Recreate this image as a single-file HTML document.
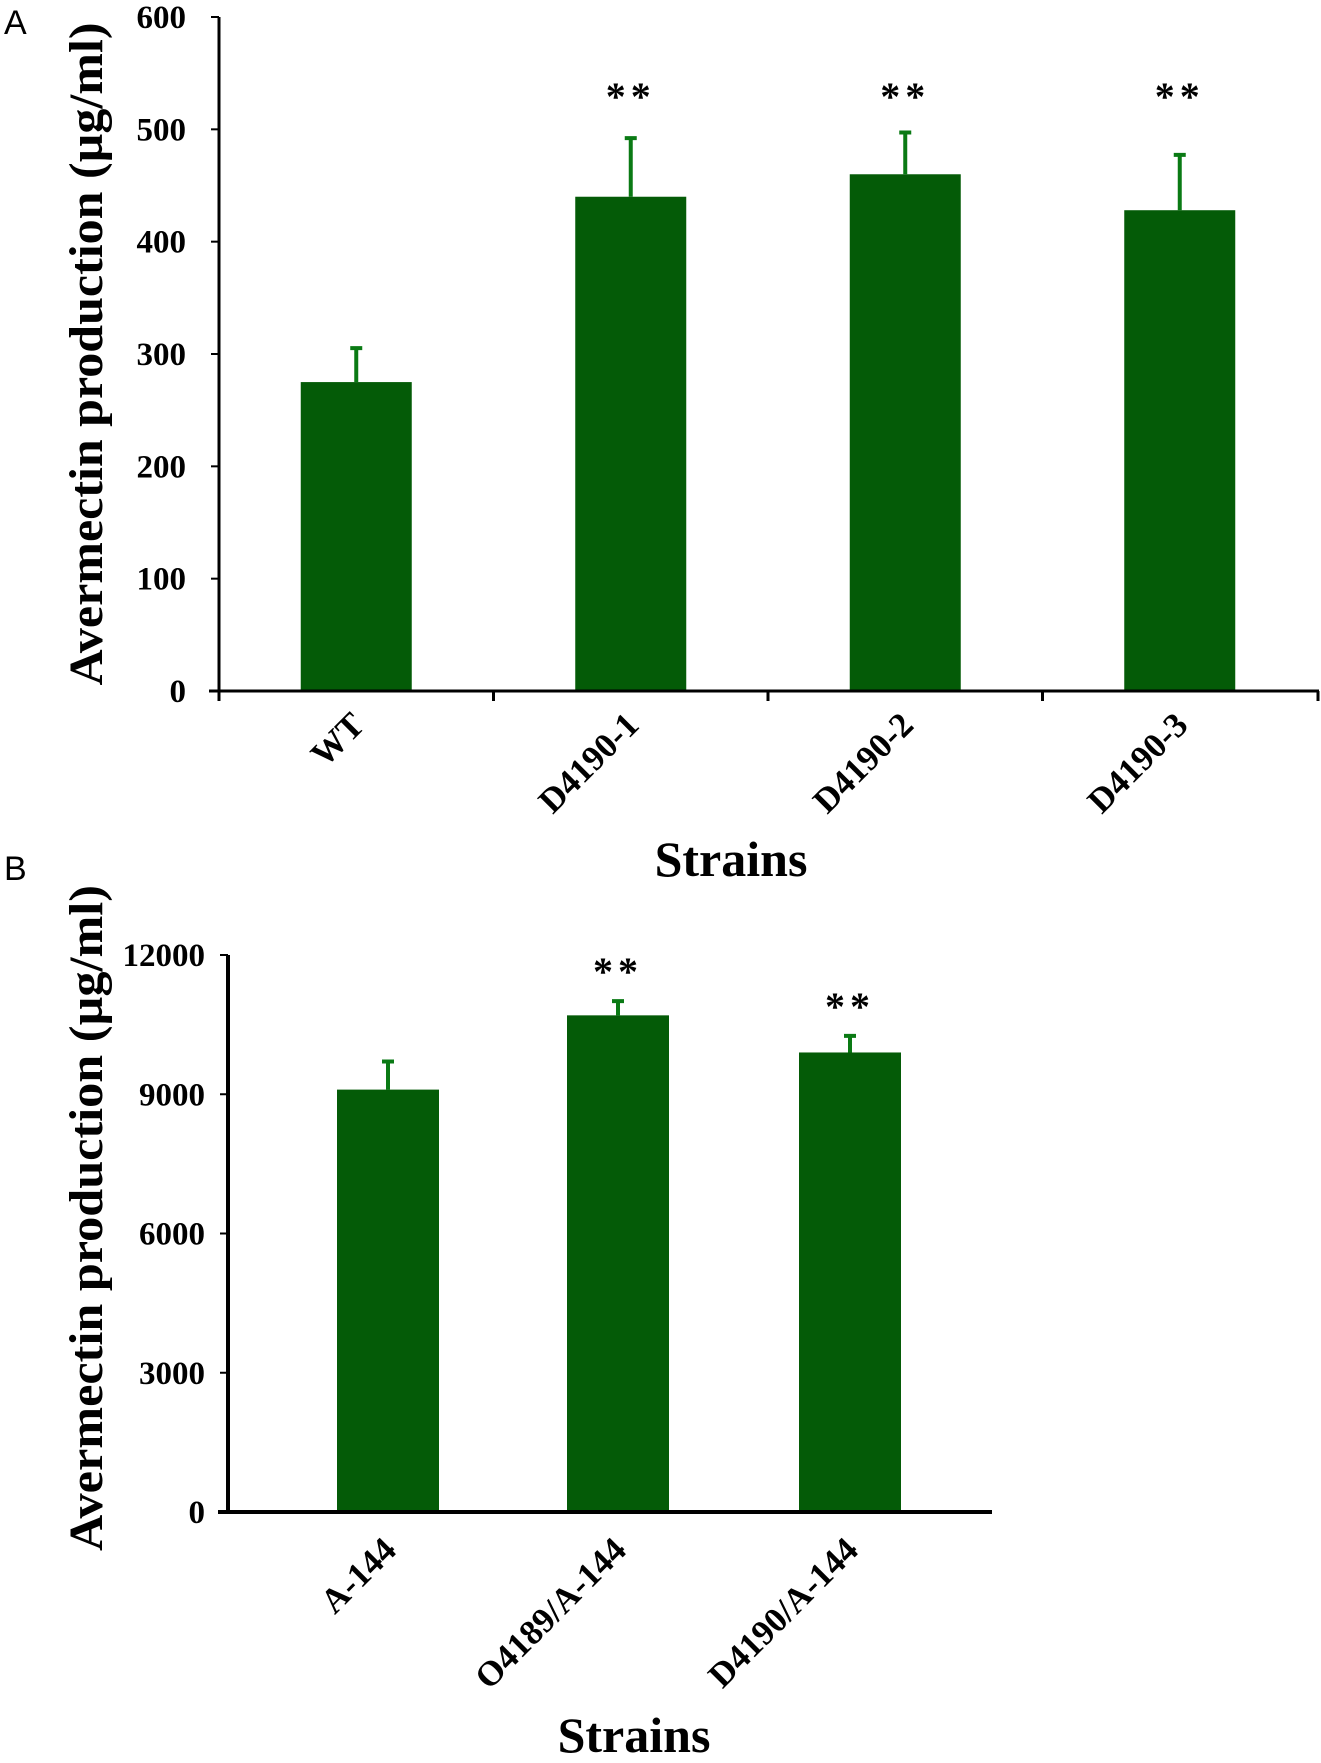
<!DOCTYPE html>
<html><head><meta charset="utf-8"><style>
body{margin:0;background:#fff}
svg text{font-family:"Liberation Serif",serif;font-weight:bold;fill:#000}
</style></head><body>
<svg id="chart" width="1321" height="1758" viewBox="0 0 1321 1758" xmlns="http://www.w3.org/2000/svg">
<text x="4" y="34" style="font-family:'Liberation Sans',sans-serif;font-weight:normal;font-size:34px">A</text>
<text x="4" y="880" style="font-family:'Liberation Sans',sans-serif;font-weight:normal;font-size:34px">B</text>
<g id="pa"></g>
<g id="pb"></g>
</svg>
<script>
const catsA = ["WT","D4190-1","D4190-2","D4190-3"];
const valsA = [275,440,460,428];
const errA = [32,54,39,51];
const sigA = ["","**","**","**"];
const ticksA = [0,100,200,300,400,500,600];

const catsB = ["A-144","O4189/A-144","D4190/A-144"];
const valsB = [9100,10700,9900];
const errB = [650,350,400];
const sigB = ["","**","**"];
const ticksB = [0,3000,6000,9000,12000];

const NS="http://www.w3.org/2000/svg";
function mk(p,t,a){const e=document.createElementNS(NS,t);for(const k in a)e.setAttribute(k,a[k]);p.appendChild(e);return e;}

function draw(g,cfg){
  const {cats,vals,errs,sig,ticks,x0,x1,y0,yTop,vmax,barW,barCenters,axisW,tickLblX,titleX,titleY,titleLen,xTitleX,xTitleY,labelDy,catTicks,fontTick,starDy,starY}=cfg;
  const y=v=>y0-(v/vmax)*(y0-yTop);
  cats.forEach((c,i)=>{
    const cx=barCenters(i);
    const r=mk(g,'rect',{x:cx-barW/2,y:y(vals[i]),width:barW,height:y0-y(vals[i]),fill:'#045b07'});
    
    
    const e=mk(g,'path',{d:`M${cx} ${y(vals[i])} V${y(vals[i]+errs[i])} M${cx-6} ${y(vals[i]+errs[i])+2} H${cx+6}`,stroke:'#0a7a14','stroke-width':4,fill:'none'});
    
    
    if(sig[i]){
      const sy = starY!=null ? starY : y(vals[i]+errs[i])-starDy;
      const s=mk(g,'text',{x:cx,y:sy,'text-anchor':'middle','font-size':40,'letter-spacing':'5'});
      s.textContent=sig[i];
      
      
    }
    const l=mk(g,'text',{x:0,y:0,'text-anchor':'end','font-size':35,transform:`translate(${cx+10},${y0+labelDy}) rotate(-45)`});
    l.textContent=c;
    
    
  });
  const ax=mk(g,'path',{d:`M${x0} ${yTop} V${y0} M${x0-10} ${y0} H${x1}`,stroke:'#000','stroke-width':axisW,fill:'none'});
  
  
  ticks.forEach(t=>{
    mk(g,'line',{x1:x0-8,x2:x0,y1:y(t),y2:y(t),stroke:'#000','stroke-width':2});
    const tl=mk(g,'text',{x:tickLblX,y:y(t)+11,'text-anchor':'end','font-size':fontTick});
    tl.textContent=t;
    
    
  });
  catTicks.forEach(cx=>mk(g,'line',{x1:cx,x2:cx,y1:y0,y2:y0+10,stroke:'#000','stroke-width':3}));
  const yt=mk(g,'text',{x:0,y:0,'text-anchor':'middle','font-size':48,textLength:titleLen,lengthAdjust:'spacingAndGlyphs',transform:`translate(${titleX},${titleY}) rotate(-90)`});
  yt.textContent='Avermectin production (µg/ml)';
  
  
  const xt=mk(g,'text',{x:xTitleX,y:xTitleY,'text-anchor':'middle','font-size':50});
  xt.textContent='Strains';
  
  
}

const cwA=274.5;
draw(document.getElementById('pa'),{cats:catsA,vals:valsA,errs:errA,sig:sigA,ticks:ticksA,
  x0:219,x1:1319,y0:691,yTop:17,vmax:600,barW:111,barCenters:i=>219+cwA*(i+0.5),axisW:3,
  tickLblX:186,titleX:102,titleY:354,titleLen:663,xTitleX:731,xTitleY:876,labelDy:36,
  catTicks:[219,219+cwA,219+2*cwA,219+3*cwA,1318],fontTick:33,starDy:28,starY:110});
const centersB=[388,618,850];
draw(document.getElementById('pb'),{cats:catsB,vals:valsB,errs:errB,sig:sigB,ticks:ticksB,
  x0:228,x1:992,y0:1512,yTop:955,vmax:12000,barW:102,barCenters:i=>centersB[i],axisW:4,
  tickLblX:205,titleX:102,titleY:1218,titleLen:666,xTitleX:634,xTitleY:1752,labelDy:40,
  catTicks:[],fontTick:33,starDy:14,starY:null});
</script>
</body></html>
